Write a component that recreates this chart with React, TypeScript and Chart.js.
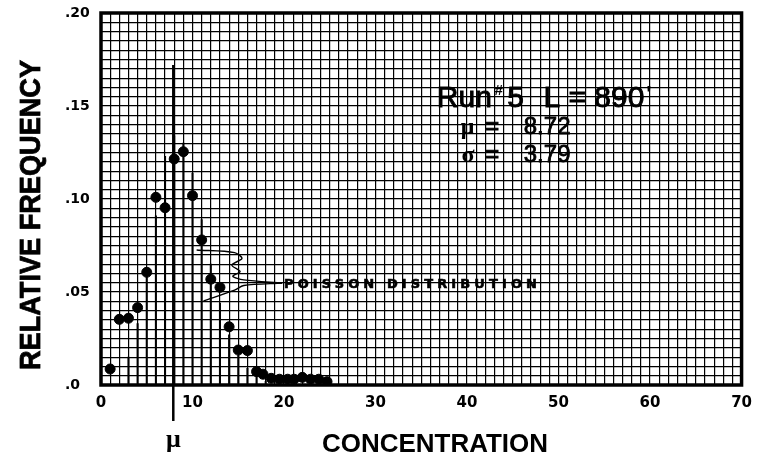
import React, { useEffect, useRef } from 'react';
import { Chart, registerables } from 'chart.js';
Chart.register(...registerables);

// Observed points (concentration, relative frequency)
const CONCENTRATION = [1, 2, 3, 4, 5, 6, 7, 8, 9, 10, 11, 12, 13, 14, 15, 16, 17, 17.7, 18.6, 19.5, 20.4, 21.1, 22, 22.9, 23.8, 24.7];
const RELATIVE_FREQUENCY = [0.0086, 0.0353, 0.0359, 0.0416, 0.0606, 0.1009, 0.0953, 0.1215, 0.1254, 0.1018, 0.078, 0.0569, 0.0525, 0.0313, 0.0188, 0.0185, 0.0072, 0.0058, 0.0036, 0.0031, 0.0031, 0.0031, 0.0041, 0.0031, 0.0031, 0.0018];

// Poisson distribution stems
const POISSON_K = [3, 4, 5, 6, 7, 8, 9, 10, 11, 12, 13, 14, 15, 16, 17, 18];
const POISSON_P = [0.015, 0.033, 0.058, 0.091, 0.123, 0.134, 0.13, 0.114, 0.089, 0.065, 0.044, 0.027, 0.016, 0.009, 0.0045, 0.002];

// Mean marker line
const MU_LINE_X = 7.9;
const MU_LINE_TOP = 0.172;

// Annotation squiggle (data coordinates)
const SQUIGGLE_A_X = [10.45, 14.6, 15.4, 14.3, 15.2, 14.4, 15.6, 19.8];
const SQUIGGLE_A_Y = [0.0726, 0.0712, 0.068, 0.0645, 0.061, 0.0585, 0.0565, 0.0548];
const SQUIGGLE_B_X = [11.2, 14.6, 15.6, 19.8];
const SQUIGGLE_B_Y = [0.0452, 0.051, 0.0535, 0.0548];

const X_TICK_LABELS = ['0', '10', '20', '30', '40', '50', '60', '70'];
const Y_TICK_LABELS = ['.0', '.05', '.10', '.15', '.20'];

const X_TITLE = 'CONCENTRATION';
const Y_TITLE = 'RELATIVE FREQUENCY';
const ANNOT_TEXT = 'POISSON DISTRIBUTION';

function fitText(ctx: CanvasRenderingContext2D, text: string, x: number, y: number, width: number, font: string, stroke = 0) {
  ctx.font = font;
  const w = ctx.measureText(text).width;
  ctx.save();
  ctx.translate(x, y);
  ctx.scale(width / w, 1);
  ctx.textAlign = 'center';
  ctx.textBaseline = 'alphabetic';
  ctx.fillText(text, 0, 0);
  if (stroke > 0) {
    ctx.lineWidth = stroke;
    ctx.strokeStyle = '#000';
    ctx.strokeText(text, 0, 0);
  }
  ctx.restore();
}

function heavyText(ctx: CanvasRenderingContext2D, text: string, x: number, y: number, w = 0.9) {
  ctx.fillText(text, x, y);
  ctx.lineWidth = w;
  ctx.strokeStyle = '#000';
  ctx.strokeText(text, x, y);
}

const overlay = {
  id: 'overlay',
  afterDatasetsDraw(chart: any) {
    const ctx: CanvasRenderingContext2D = chart.ctx;
    const xs = chart.scales.x;
    const ys = chart.scales.y;
    const a = chart.chartArea;
    ctx.save();
    ctx.strokeStyle = '#000';
    ctx.lineWidth = 3.5;
    ctx.strokeRect(a.left, a.top, a.right - a.left, a.bottom - a.top);
    const mx = xs.getPixelForValue(MU_LINE_X);
    ctx.lineWidth = 2.5;
    ctx.beginPath();
    ctx.moveTo(mx, ys.getPixelForValue(MU_LINE_TOP));
    ctx.lineTo(mx, a.bottom + 36);
    ctx.stroke();
    ctx.restore();
  },
  afterDraw(chart: any) {
    const ctx: CanvasRenderingContext2D = chart.ctx;
    const xs = chart.scales.x;
    const ys = chart.scales.y;
    const a = chart.chartArea;
    const px = (v: number) => xs.getPixelForValue(v);
    const py = (v: number) => ys.getPixelForValue(v);
    ctx.save();
    ctx.fillStyle = '#000';
    ctx.textBaseline = 'alphabetic';
    ctx.textAlign = 'left';

    // Run header
    const f30 = "30px 'Liberation Sans', Arial, sans-serif";
    ctx.font = f30;
    heavyText(ctx, 'Run', px(36.7), py(0.1495));
    ctx.font = "bold 15px 'Liberation Sans', Arial, sans-serif";
    ctx.fillText('#', px(43.0), py(0.156));
    ctx.font = f30;
    heavyText(ctx, '5', px(44.4), py(0.1495));
    const lText = 'L = 890';
    heavyText(ctx, lText, px(48.35), py(0.1495));
    const lw = ctx.measureText(lText).width;
    ctx.font = "bold 22px 'Liberation Sans', Arial, sans-serif";
    ctx.fillText("'", px(48.35) + lw + 2, py(0.1495) - 6);

    const f24 = "24px 'Liberation Sans', Arial, sans-serif";
    ctx.font = "bold 24px 'Liberation Serif', serif";
    ctx.fillText('μ', px(39.3), py(0.135));
    ctx.font = f24;
    heavyText(ctx, '=', px(42.0), py(0.135), 0.8);
    heavyText(ctx, '8.72', px(46.2), py(0.135), 0.8);
    ctx.font = "bold 24px 'Liberation Serif', serif";
    ctx.fillText('σ', px(39.4), py(0.12));
    ctx.font = f24;
    heavyText(ctx, '=', px(42.0), py(0.12), 0.8);
    heavyText(ctx, '3.79', px(46.2), py(0.12), 0.8);

    // Poisson annotation
    ctx.font = "bold 13px 'DejaVu Sans', sans-serif";
    const aw = ctx.measureText(ANNOT_TEXT).width;
    (ctx as any).letterSpacing = ((253 - aw) / (ANNOT_TEXT.length - 1)).toFixed(2) + 'px';
    ctx.textBaseline = 'middle';
    heavyText(ctx, ANNOT_TEXT, px(20.0), py(0.0538), 0.6);
    (ctx as any).letterSpacing = '0px';
    ctx.textBaseline = 'alphabetic';

    // mu label under axis
    ctx.font = "bold 26px 'Liberation Serif', serif";
    ctx.textAlign = 'center';
    ctx.fillText('μ', px(MU_LINE_X), a.bottom + 62);

    // axis titles
    fitText(ctx, X_TITLE, 435, 452, 226, "bold 25px 'Liberation Sans', Arial, sans-serif");
    ctx.save();
    ctx.translate(40, 215);
    ctx.rotate(-Math.PI / 2);
    fitText(ctx, Y_TITLE, 0, 0, 310, "bold 30px 'Liberation Sans', Arial, sans-serif", 0.8);
    ctx.restore();

    ctx.restore();
  },
};

export default function App() {
  const ref = useRef<HTMLCanvasElement | null>(null);
  useEffect(() => {
    document.body.style.margin = '0';
    const canvas = ref.current;
    if (!canvas) return;
    const chart = new Chart(canvas, {
      type: 'scatter',
      data: {
        datasets: [
          {
            type: 'scatter',
            label: 'Observed',
            data: CONCENTRATION.map((x, i) => ({ x, y: RELATIVE_FREQUENCY[i] })),
            backgroundColor: '#000',
            borderColor: '#000',
            pointRadius: 5,
            pointHoverRadius: 5,
            order: 0,
          } as any,
          {
            type: 'line',
            label: 'squiggleA',
            data: SQUIGGLE_A_X.map((x, i) => ({ x, y: SQUIGGLE_A_Y[i] })),
            borderColor: '#000',
            borderWidth: 1.4,
            pointRadius: 0,
            tension: 0.3,
            fill: false,
            order: 1,
          } as any,
          {
            type: 'line',
            label: 'squiggleB',
            data: SQUIGGLE_B_X.map((x, i) => ({ x, y: SQUIGGLE_B_Y[i] })),
            borderColor: '#000',
            borderWidth: 1.4,
            pointRadius: 0,
            tension: 0.3,
            fill: false,
            order: 1,
          } as any,
          {
            type: 'bar',
            label: 'Poisson',
            data: POISSON_K.map((x, i) => ({ x, y: POISSON_P[i] })),
            backgroundColor: '#000',
            barThickness: 1.4,
            order: 2,
          } as any,
        ],
      },
      options: {
        animation: false,
        responsive: true,
        maintainAspectRatio: false,
        layout: { padding: { left: 65, top: 13, right: 10, bottom: 0 } },
        plugins: { legend: { display: false }, tooltip: { enabled: false } },
        scales: {
          x: {
            type: 'linear',
            min: 0,
            max: 70,
            offset: false,
            afterFit: (s: any) => { s.height = 82; },
            grid: { color: '#000', lineWidth: 1.2, drawTicks: false, offset: false },
            border: { display: false },
            ticks: {
              stepSize: 1,
              autoSkip: false,
              maxTicksLimit: 200,
              maxRotation: 0,
              padding: 9,
              color: '#000',
              font: { family: "'DejaVu Sans', sans-serif", size: 15, weight: 'bold' },
              callback: (v: any) => {
                const n = Number(v);
                return n % 10 === 0 ? X_TICK_LABELS[n / 10] : '';
              },
            },
          },
          y: {
            type: 'linear',
            min: 0,
            max: 0.2,
            afterFit: (s: any) => { s.width = 36; },
            grid: { color: '#000', lineWidth: 1.2, drawTicks: false },
            border: { display: false },
            ticks: {
              stepSize: 0.005,
              autoSkip: false,
              maxTicksLimit: 200,
              padding: 0,
              crossAlign: 'far',
              color: '#000',
              font: { family: "'DejaVu Sans', sans-serif", size: 14, weight: 'bold' },
              callback: (v: any) => {
                const n = Number(v);
                const idx = Math.round(n / 0.05);
                return Math.abs(n - idx * 0.05) < 1e-7 ? Y_TICK_LABELS[idx] : '';
              },
            },
          },
        },
      },
      plugins: [overlay],
    });
    return () => chart.destroy();
  }, []);
  return (
    <div style={{ width: 761, height: 467, position: 'relative', background: '#fff' }}>
      <canvas ref={ref} />
    </div>
  );
}
